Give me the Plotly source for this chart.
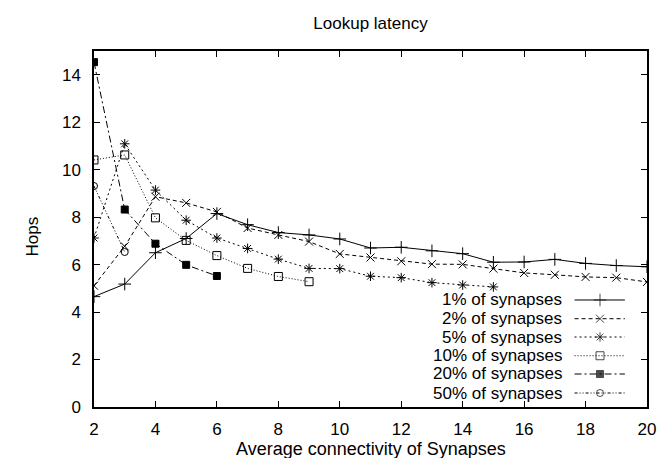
import plotly.graph_objects as go

# ---- data ----
conn_1 = list(range(2, 21))
pct1 = [4.65, 5.18, 6.5, 7.1, 8.15, 7.68, 7.35, 7.25, 7.08, 6.7, 6.73, 6.58, 6.46, 6.1, 6.11, 6.22, 6.05, 5.96, 5.91]
conn_2 = list(range(2, 21))
pct2 = [5.11, 6.77, 8.86, 8.6, 8.22, 7.54, 7.25, 6.97, 6.45, 6.3, 6.14, 6.02, 6.01, 5.83, 5.65, 5.57, 5.48, 5.45, 5.27]
conn_5 = list(range(2, 16))
pct5 = [7.12, 11.09, 9.14, 7.87, 7.12, 6.68, 6.23, 5.84, 5.83, 5.51, 5.45, 5.24, 5.14, 5.06]
conn_10 = list(range(2, 10))
pct10 = [10.41, 10.62, 7.97, 7.02, 6.38, 5.84, 5.5, 5.28]
conn_20 = list(range(2, 7))
pct20 = [14.53, 8.32, 6.88, 5.99, 5.52]
conn_50 = [2, 3]
pct50 = [9.31, 6.53]

labels = ["1% of synapses", "2% of synapses", "5% of synapses",
          "10% of synapses", "20% of synapses", "50% of synapses"]
xticks = [2, 4, 6, 8, 10, 12, 14, 16, 18, 20]
yticks = [0, 2, 4, 6, 8, 10, 12, 14]

series = [
    (conn_1, pct1, "solid", "cross-thin", 9),
    (conn_2, pct2, "4px,3px", "x-thin", 8),
    (conn_5, pct5, "2px,3px", "asterisk", 8),
    (conn_10, pct10, "1px,2px", "square-open", 8),
    (conn_20, pct20, "7px,3px,2px,3px", "square", 7),
    (conn_50, pct50, "3px,2px,1px,2px,1px,2px", "circle-open", 7),
]

FONT = "Liberation Sans, Arial, sans-serif"
fig = go.Figure()

for (xs, ys, dash, sym, ms), name in zip(series, labels):
    fig.add_trace(go.Scatter(
        x=xs, y=ys, mode="lines+markers", name=name, showlegend=False,
        line=dict(color="black", width=1, dash=dash),
        marker=dict(symbol=sym, size=ms, color="black",
                    line=dict(color="black", width=1)),
    ))

# custom gnuplot-style key (text left, sample right)
key_rows = [0.3006, 0.248, 0.1966, 0.144, 0.0927, 0.0393]
for (xs, ys, dash, sym, ms), name, ky in zip(series, labels, key_rows):
    fig.add_trace(go.Scatter(
        x=[0.869, 0.915, 0.96], y=[ky, ky, ky], xaxis="x2", yaxis="y2",
        mode="lines+markers", showlegend=False, hoverinfo="skip",
        line=dict(color="black", width=1, dash=dash),
        marker=dict(symbol=sym, size=[0, ms, 0], color="black",
                    line=dict(color="black", width=1)),
    ))
    fig.add_annotation(x=0.848, y=ky, xref="paper", yref="paper",
                       text=name, showarrow=False, xanchor="right",
                       yanchor="middle", borderpad=0,
                       font=dict(size=17, color="black", family=FONT))

axis_common = dict(showgrid=False, zeroline=False, showline=True, linecolor="black",
                   linewidth=1.5, ticks="inside", ticklen=6, tickcolor="black",
                   tickwidth=1, mirror="ticks",
                   tickfont=dict(size=17, color="black", family=FONT))

fig.update_layout(
    width=665, height=458,
    margin=dict(l=85.5, r=26, t=43, b=59),
    plot_bgcolor="white", paper_bgcolor="white",
    title=dict(text="Lookup latency", x=0.5, xref="paper", y=1 - 15 / 458,
               yanchor="middle", font=dict(size=17, color="black", family=FONT)),
    xaxis=dict(range=[2, 20], tickvals=xticks, ticklabelstandoff=6, **axis_common),
    yaxis=dict(range=[0, 15], tickvals=yticks, ticklabelstandoff=8, **axis_common),
    xaxis2=dict(range=[0, 1], overlaying="x", visible=False, fixedrange=True),
    yaxis2=dict(range=[0, 1], overlaying="y", visible=False, fixedrange=True),
    showlegend=False,
)

fig.add_annotation(x=0.5, y=(399 - 441) / 356, xref="paper", yref="paper",
                   text="Average connectivity of Synapses", showarrow=False,
                   xanchor="center", yanchor="middle",
                   font=dict(size=18, color="black", family=FONT))
fig.add_annotation(x=(23 - 85.5) / 553.5, y=(399 - 229) / 356, xref="paper", yref="paper",
                   text="Hops", showarrow=False, textangle=-90,
                   xanchor="center", yanchor="middle",
                   font=dict(size=17, color="black", family=FONT))

fig.write_html("out.html")
